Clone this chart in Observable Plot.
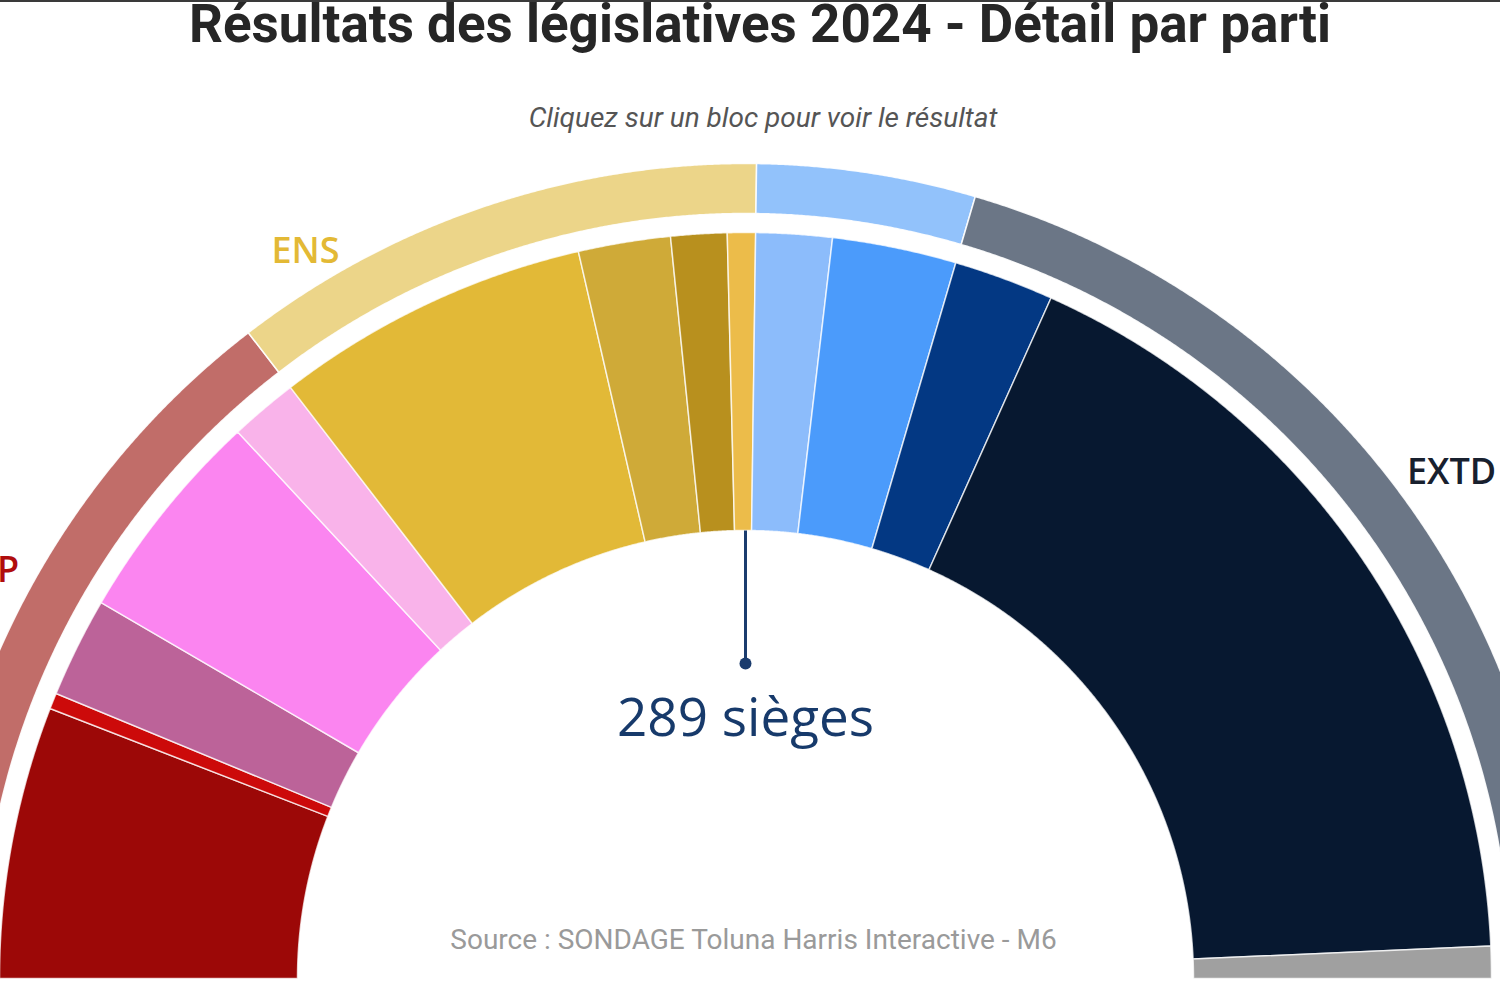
<!DOCTYPE html>
<html><head><meta charset="utf-8">
<script src="https://cdn.jsdelivr.net/npm/d3@7"></script>
<script src="https://cdn.jsdelivr.net/npm/@observablehq/plot@0.6"></script>
<style>
html,body{margin:0;padding:0;background:#fff;}
body{width:1500px;height:1000px;overflow:hidden;position:relative;}
#head{height:140px;position:relative;border-top:2px solid #3a3a3a;box-sizing:border-box;}
#title{position:absolute;left:0;width:1520px;text-align:center;top:-4px;font:700 53px Roboto;color:#262626;line-height:53px;white-space:nowrap;}
#sub{position:absolute;left:0;width:1526px;text-align:center;top:102px;font:italic 400 28px Roboto;color:#555;line-height:28px;white-space:nowrap;}
#chart svg{display:block;overflow:hidden;}
</style></head>
<body>
<div id="head">
  <div id="title">Résultats des législatives 2024 - Détail par parti</div>
  <div id="sub">Cliquez sur un bloc pour voir le résultat</div>
</div>
<div id="chart"></div>
<script>
// ---- Data ----
const parties = ["LFI", "PCF", "Écologistes", "PS", "Divers gauche", "Renaissance", "MoDem", "Horizons", "Divers centre", "LR", "Divers droite", "LR-RN", "RN", "Divers"];
const seats = [68, 4, 25, 54, 17, 79, 23, 14, 7, 19, 31, 25, 203, 8];
const partyColors = ["#9c0807", "#cc0a0a", "#bc6399", "#fb85f0", "#f9b3ea", "#e2b937", "#cfaa38", "#b8901e", "#ecbc4a", "#8cbcfb", "#4b9bfb", "#033883", "#071830", "#a0a0a0"];

const blocs = ["NFP", "ENS", "LR", "EXTD", "DIV"];
const blocSeats = [168, 123, 50, 228, 8];
const blocColors = ["#c16d69", "#ecd589", "#92c2fb", "#6b7686", "#c8c8c8"];

const labelBlocs = ["NFP", "ENS", "EXTD"];
const labelSeat = [94, 195, 457];
const labelAnchor = ["end", "end", "start"];
const labelColors = ["#b00d0d", "#e3b935", "#18202e"];

const majority = 289;
const centerText = "289 sièges";
const sourceText = "Source : SONDAGE Toluna Harris Interactive - M6";

// ---- Geometry ----
const TOTAL = d3.sum(seats);
const R_IN = 448, R_MID = 746, R_OUT_IN = 765, R_OUT = 815, R_LABEL = 833;
function pt(s, r) {
  const t = Math.PI * s / TOTAL;
  return {x: -r * Math.cos(t), y: r * Math.sin(t)};
}
function wedge(s0, s1, r0, r1) {
  const n = Math.max(2, Math.ceil((s1 - s0) * 2));
  const pts = [];
  for (let i = 0; i <= n; i++) pts.push(pt(s0 + (s1 - s0) * i / n, r1));
  for (let i = n; i >= 0; i--) pts.push(pt(s0 + (s1 - s0) * i / n, r0));
  return pts;
}

const marks = [];
let acc = 0;
seats.forEach((v, i) => {
  marks.push(Plot.line(wedge(acc, acc + v, R_IN, R_MID), {
    x: "x", y: "y", curve: "linear-closed",
    fill: partyColors[i], stroke: "#ffffff", strokeOpacity: 0.75, strokeWidth: 1.5,
    title: () => parties[i] + " : " + v
  }));
  acc += v;
});
acc = 0;
blocSeats.forEach((v, i) => {
  marks.push(Plot.line(wedge(acc, acc + v, R_OUT_IN, R_OUT), {
    x: "x", y: "y", curve: "linear-closed",
    fill: blocColors[i], stroke: "#ffffff", strokeOpacity: 0.9, strokeWidth: 1.5,
    title: () => blocs[i] + " : " + v
  }));
  acc += v;
});
labelBlocs.forEach((b, i) => {
  const p = pt(labelSeat[i], R_LABEL);
  marks.push(Plot.text([{...p, t: b}], {
    x: "x", y: "y", text: "t", fill: labelColors[i],
    fontSize: 36, fontWeight: 600, fontFamily: "Open Sans", textAnchor: labelAnchor[i],
    letterSpacing: "1.5px"
  }));
});
// majority marker
const mSeat = majority - 0.5;
const pA = pt(mSeat, R_IN), pB = pt(mSeat, R_IN * 0.703);
marks.push(Plot.link([{x1: pA.x, y1: pA.y, x2: pB.x, y2: pB.y}], {
  x1: "x1", y1: "y1", x2: "x2", y2: "y2", stroke: "#1b3c6e", strokeWidth: 3
}));
marks.push(Plot.dot([pB], {x: "x", y: "y", r: 6, fill: "#1b3c6e"}));
marks.push(Plot.text([{x: pB.x, y: R_IN * 0.58, t: centerText}], {
  x: "x", y: "y", text: "t", fill: "#173a6b", fontSize: 53, fontWeight: 400,
  fontFamily: "Open Sans", textAnchor: "middle", letterSpacing: "0.5px"
}));
marks.push(Plot.text([{x: pB.x + 8, y: R_IN * 0.085, t: sourceText}], {
  x: "x", y: "y", text: "t", fill: "#9a9a9a", fontSize: 28, fontWeight: 400,
  fontFamily: "Roboto", textAnchor: "middle"
}));

const plot = Plot.plot({
  width: 1500, height: 860,
  marginTop: 0, marginRight: 0, marginBottom: 0, marginLeft: 0,
  x: {domain: [-745, 755], axis: null},
  y: {domain: [-22, 838], axis: null},
  style: {background: "#fff", overflow: "hidden"},
  marks
});
document.getElementById("chart").appendChild(plot);
</script>
</body></html>
